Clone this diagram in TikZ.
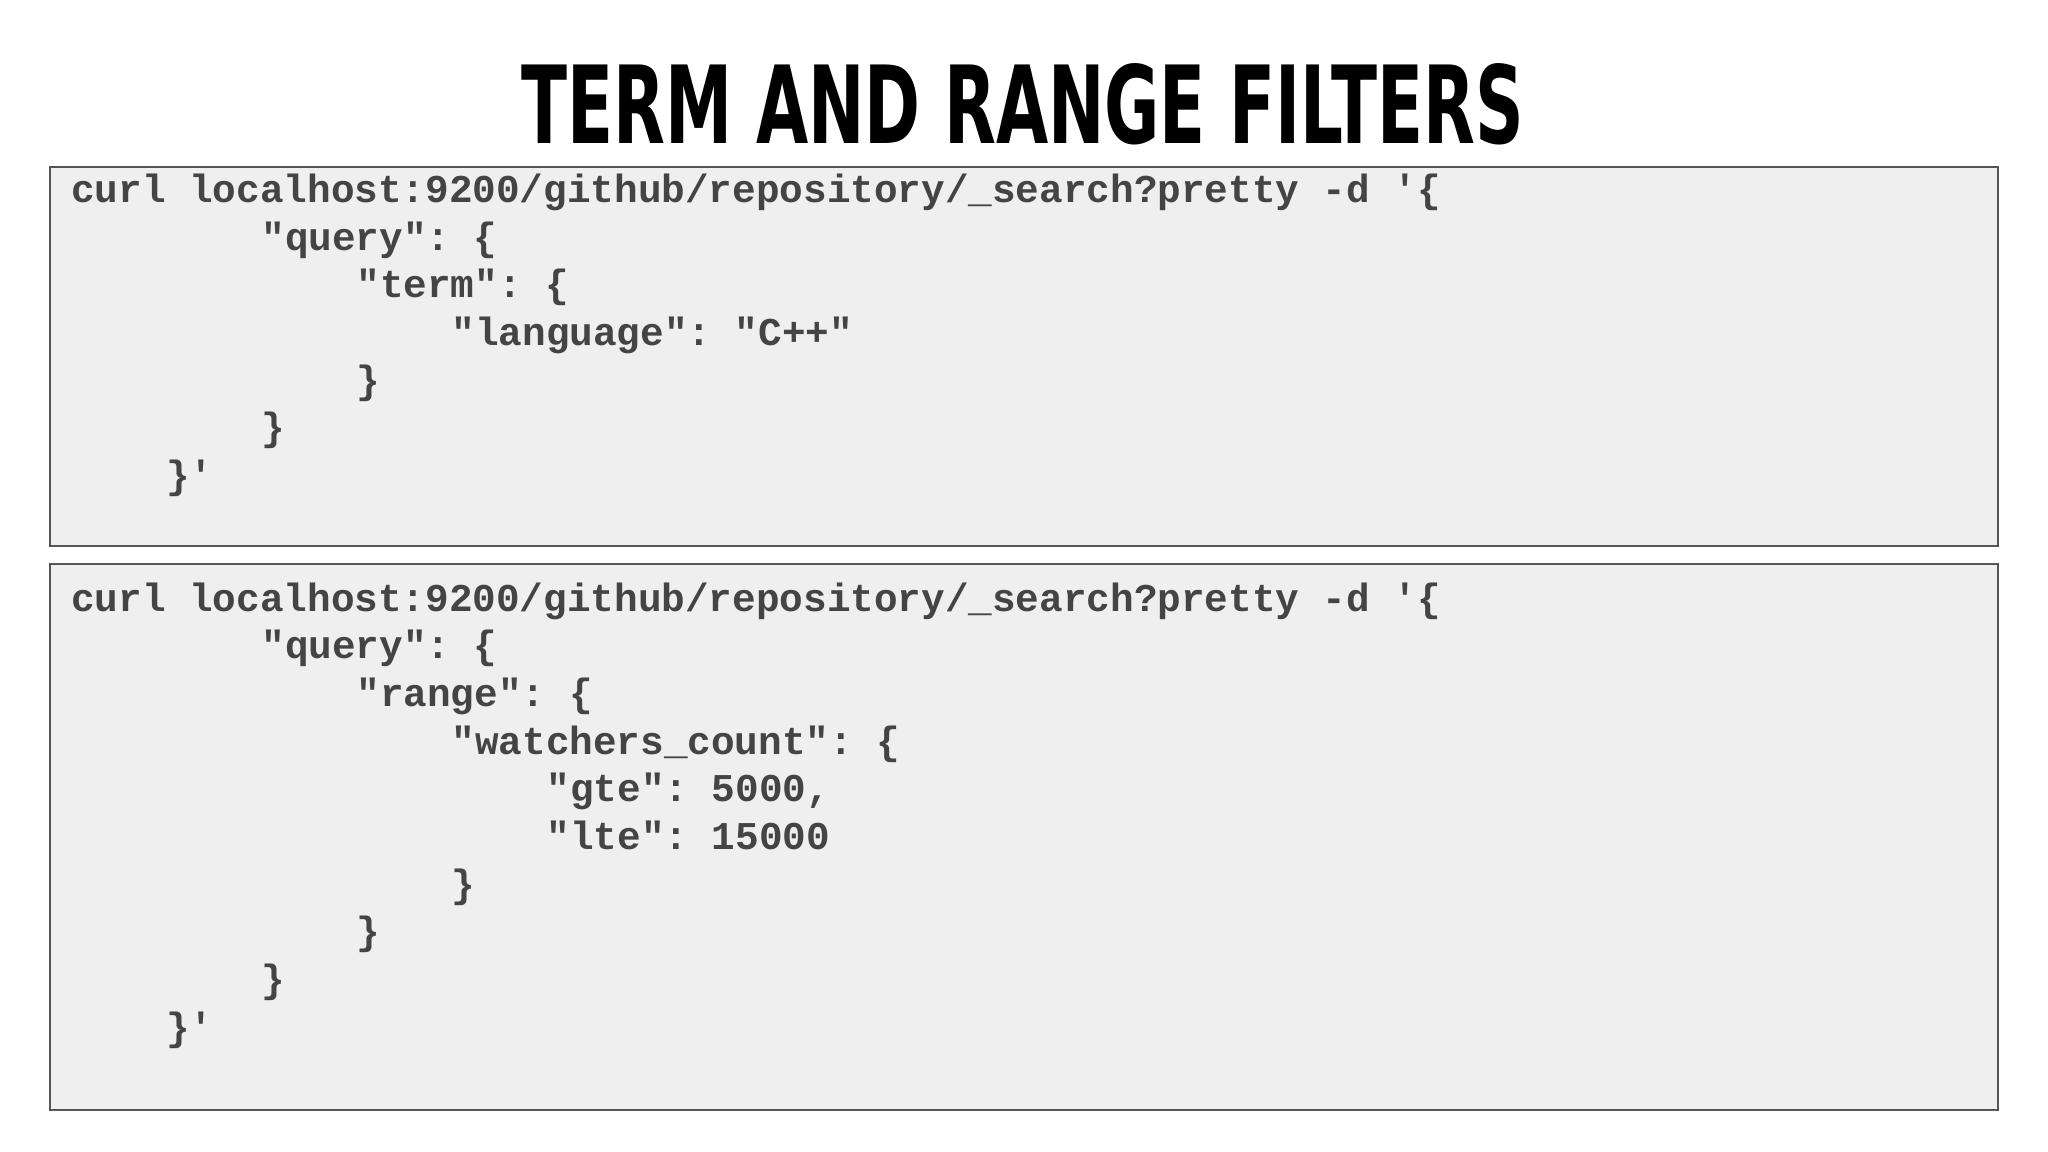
\documentclass[tikz,border=0pt]{standalone}
\usepackage{fontspec}
\setmonofont{Liberation Mono}
\newfontfamily\titlefont{DejaVu Sans Condensed}
\definecolor{codegray}{HTML}{444444}
\definecolor{boxfill}{HTML}{EFEFEF}
\definecolor{boxline}{HTML}{555555}
\begin{document}
\begin{tikzpicture}[x=0.0130612cm,y=-0.0130612cm,
  codebox/.style={draw=boxline,fill=boxfill,line width=0.6pt},
  code/.style={anchor=base west,inner sep=0pt,text=codegray,font=\fontsize{11.2pt}{13.5pt}\ttfamily\bfseries}]
\useasboundingbox (0,0) rectangle (1568,882);
\fill[white] (0,0) rectangle (1568,882);
\node[inner sep=0pt] (title) at (783,80) {\resizebox{10.02cm}{0.80cm}{\titlefont\bfseries TERM AND RANGE FILTERS}};
\draw[codebox] (38,128) rectangle (1530,418);
\draw[codebox] (38,432) rectangle (1530,850);
% box 1
\node[code] (a1) at (54,155) {curl localhost:9200/github/repository/\_search?pretty -d '\{};
\node[code] (a2) at (199.6,191.5) {"query": \{};
\node[code] (a3) at (272.4,228) {"term": \{};
\node[code] (a4) at (345.2,264.5) {"language": "C++"};
\node[code] (a5) at (272.4,301) {\}};
\node[code] (a6) at (199.6,337.5) {\}};
\node[code] (a7) at (126.8,374) {\}'};
% box 2
\node[code] (b1) at (54,468) {curl localhost:9200/github/repository/\_search?pretty -d '\{};
\node[code] (b2) at (199.6,504.5) {"query": \{};
\node[code] (b3) at (272.4,541) {"range": \{};
\node[code] (b4) at (345.2,577.5) {"watchers\_count": \{};
\node[code] (b5) at (418,614) {"gte": 5000,};
\node[code] (b6) at (418,650.5) {"lte": 15000};
\node[code] (b7) at (345.2,687) {\}};
\node[code] (b8) at (272.4,723.5) {\}};
\node[code] (b9) at (199.6,760) {\}};
\node[code] (b10) at (126.8,796.5) {\}'};
\end{tikzpicture}
\end{document}
